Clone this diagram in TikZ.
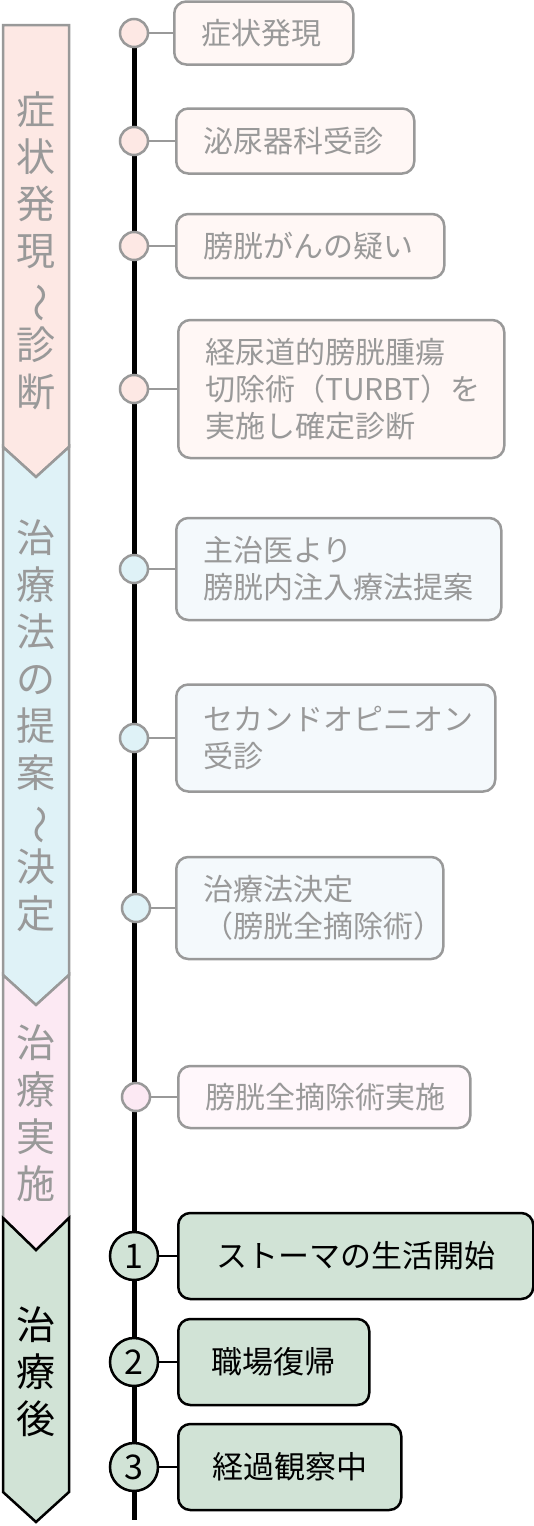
\documentclass[tikz,border=0pt]{standalone}
\usepackage{fontspec}
\setmainfont{Noto Sans CJK JP}

\definecolor{linegray}{HTML}{999999}
\definecolor{pinkA}{HTML}{FDE8E4}
\definecolor{pinkAbox}{HTML}{FFF7F5}
\definecolor{blueA}{HTML}{DFF2F7}
\definecolor{blueAbox}{HTML}{F4F9FC}
\definecolor{pinkB}{HTML}{FCE9F3}
\definecolor{pinkBbox}{HTML}{FFF7FB}
\definecolor{greenA}{HTML}{D1E3D6}

\newcommand{\waveV}{\rotatebox[origin=c]{-90}{～}}

\tikzset{
  banner/.style={draw=linegray, line width=2.5pt},
  bannertext/.style={text=linegray, align=center, inner sep=0pt, font=\fontsize{39}{47}\selectfont},
  stepbox/.style={draw=linegray, line width=2.5pt, rounded corners=12pt, text=linegray, align=left,
    anchor=west, inner xsep=27pt, inner ysep=0pt, font=\fontsize{30}{37}\selectfont},
  dot/.style={circle, draw=linegray, line width=2.5pt, minimum size=28pt, inner sep=0pt},
  tick/.style={draw=linegray, line width=2pt},
  afterbox/.style={draw=black, line width=2.5pt, rounded corners=12pt, fill=greenA, align=center,
    anchor=west, minimum height=86pt, inner sep=0pt, font=\fontsize{31}{37}\selectfont},
  afterdot/.style={circle, draw=black, line width=2.5pt, fill=greenA, minimum size=48pt, inner sep=0pt,
    font=\fontsize{34}{36}\selectfont},
  aftertick/.style={draw=black, line width=2pt}
}

\begin{document}
\begin{tikzpicture}[x=1pt, y=-1pt]
  \useasboundingbox (0,0) rectangle (533,1526);

  % stage banners
  \draw[banner, fill=pinkA] (3,25) -- (69,25) -- (69,447) -- (36,477) -- (3,447) -- cycle;
  \draw[banner, fill=blueA] (3,447) -- (36,477) -- (69,447) -- (69,975) -- (36,1005) -- (3,975) -- cycle;
  \draw[banner, fill=pinkB] (3,975) -- (36,1005) -- (69,975) -- (69,1218) -- (36,1250) -- (3,1218) -- cycle;
  \draw[banner, draw=black, fill=greenA] (3,1218) -- (36,1250) -- (69,1218) -- (69,1492) -- (36,1522) -- (3,1492) -- cycle;

  \node[bannertext] (stage1) at (36,251) {症\\状\\発\\現\\\waveV\\診\\断};
  \node[bannertext] (stage2) at (36,726) {治\\療\\法\\の\\提\\案\\\waveV\\決\\定};
  \node[bannertext] (stage3) at (36,1113) {治\\療\\実\\施};
  \node[bannertext, text=black] (stage4) at (36,1372) {治\\療\\後};

  % time line
  \coordinate (lineTop) at (134,33);
  \coordinate (lineEnd) at (134,1520);
  \draw[line width=5pt] (lineTop) -- (lineEnd);

  % events up to the operation
  \foreach \n/\cx/\y/\bx/\w/\h/\f/\d/\t in {
    a/134/33/173/179/63/pinkAbox/pinkA/{症状発現},
    b/134/141/175/238/65/pinkAbox/pinkA/{泌尿器科受診},
    c/134/246/175/268/64/pinkAbox/pinkA/{膀胱がんの疑い},
    d/134/389/177/326/138/pinkAbox/pinkA/{経尿道的膀胱腫瘍\\切除術（TURBT）を\\実施し確定診断},
    e/134/569/175/325/102/blueAbox/blueA/{主治医より\\膀胱内注入療法提案},
    f/134/738/175/319/107/blueAbox/blueA/{セカンドオピニオン\\受診},
    g/136/908/175/267/102/blueAbox/blueA/{治療法決定\\（膀胱全摘除術）},
    h/136/1097/177/292/62/pinkBbox/pinkB/{膀胱全摘除術実施}}
  {
    \pgfmathsetmacro\tw{\w-54}
    \node[stepbox, fill=\f, text width=\tw pt, minimum height=\h] (box\n) at (\bx,\y) {\t};
    \node[dot, fill=\d] (dot\n) at (\cx,\y) {};
    \draw[tick] (dot\n) -- (box\n);
  }

  % after the treatment
  \foreach \n/\y/\w/\t in {1/1256/355/{ストーマの生活開始}, 2/1362/191/{職場復帰}, 3/1467/223/{経過観察中}}
  {
    \node[afterbox, minimum width=\w] (after\n) at (177,\y) {\t};
    \node[afterdot] (num\n) at (134,\y) {\n};
    \draw[aftertick] (num\n) -- (after\n);
  }
\end{tikzpicture}
\end{document}
